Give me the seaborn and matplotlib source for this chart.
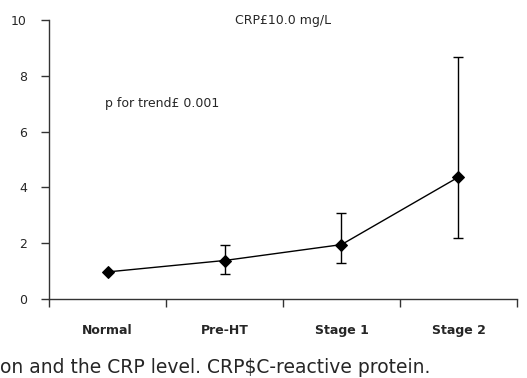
import matplotlib
matplotlib.use("Agg")
import matplotlib.pyplot as plt
import seaborn as sns
import pandas as pd

groups = ["Normal", "Pre-HT", "Stage 1", "Stage 2"]
means = [0.97, 1.38, 1.95, 4.37]
lower = [0.97, 0.88, 1.29, 2.20]
upper = [0.97, 1.92, 3.08, 8.66]

df = pd.DataFrame({"group": groups, "crp": means})

sns.set_style("white")
plt.rcParams["font.family"] = ["DejaVu Sans"]

fig = plt.figure(figsize=(5.27, 3.78), dpi=100)
ax = fig.add_axes([0.093, 0.209, 0.888, 0.738])

sns.lineplot(data=df, x="group", y="crp", marker="D", markersize=6,
             color="black", linewidth=1, markeredgecolor="black", ax=ax)
pos = range(len(groups))
ax.errorbar(list(pos), means,
            yerr=[[m - l for m, l in zip(means, lower)],
                  [u - m for m, u in zip(means, upper)]],
            fmt="none", ecolor="black", elinewidth=1, capsize=3.5)

ax.set_xlim(-0.5, 3.5)
ax.set_ylim(0, 10)
ax.set_yticks([0, 2, 4, 6, 8, 10])
ax.set_xticks(list(pos))
ax.set_xticklabels(groups, fontweight="bold", fontsize=9)
ax.set_xticks([-0.5, 0.5, 1.5, 2.5, 3.5], minor=True)
ax.tick_params(axis="x", which="major", bottom=False, length=0, pad=18)
ax.tick_params(axis="x", which="minor", bottom=True, length=6, width=1,
               direction="out", color="#333333")
ax.tick_params(axis="y", left=True, length=6, width=1, direction="out",
               labelsize=9, pad=10, color="#333333")
ax.set_xlabel("")
ax.set_ylabel("")
for s in ["top", "right"]:
    ax.spines[s].set_visible(False)
for s in ["left", "bottom"]:
    ax.spines[s].set_color("#333333")
    ax.spines[s].set_linewidth(1)

ax.text(1.5, 10, "CRP\u00a310.0 mg/L", ha="center", va="center", fontsize=9)
ax.text(-0.02, 7, "p for trend\u00a3 0.001", ha="left", va="center", fontsize=9)

fig.text(0.0, 0.003, "on and the CRP level. CRP$C-reactive protein.",
         fontsize=13.5, ha="left", va="bottom")

fig.savefig("out.png", dpi=100)
